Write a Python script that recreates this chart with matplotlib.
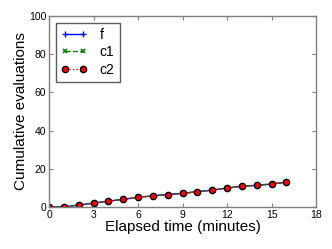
import matplotlib
matplotlib.use('Agg')
import matplotlib.pyplot as plt

plt.rcParams['font.family'] = ['Liberation Sans', 'DejaVu Sans']

# elapsed time (minutes) and cumulative evaluations
minutes = [0, 1, 2, 3, 4, 5, 6, 7, 8, 9, 10, 11, 12, 13, 14, 15, 16]
evals_f = [0, 0, 1, 2, 3, 4, 5, 5.8, 6.5, 7.1, 8, 8.8, 9.9, 10.8, 11.3, 12, 12.9]
evals_c1 = [0, 0, 1, 2, 3, 4, 5, 5.8, 6.5, 7.1, 8, 8.8, 9.9, 10.8, 11.3, 12, 12.9]
evals_c2 = [0, 0, 1, 2, 3, 4, 5, 5.8, 6.5, 7.1, 8, 8.8, 9.9, 10.8, 11.3, 12, 12.9]

fig = plt.figure(figsize=(3.32, 2.49), dpi=100)
ax = fig.add_axes([0.148, 0.169, 0.804, 0.767])

ax.plot(minutes, evals_f, color='blue', linestyle='-', marker='+', ms=5, lw=1, label='f')
ax.plot(minutes, evals_c1, color='green', linestyle='--', marker='x', ms=3.5, mew=1.2, lw=1, label='c1')
ax.plot(minutes, evals_c2, color='red', linestyle=':', marker='o', ms=4.5,
        mfc='red', mec='black', mew=1, lw=1, label='c2')

ax.set_xlim(0, 18)
ax.set_ylim(0, 100)
ax.set_xticks(range(0, 19, 3))
ax.set_yticks(range(0, 101, 20))
ax.tick_params(direction='in', top=True, right=True, labelsize=7.5, length=3, color='grey', pad=2)
for s in ax.spines.values():
    s.set_color('grey')
    s.set_linewidth(1)

ax.set_xlabel('Elapsed time (minutes)', fontsize=11, labelpad=0)
ax.set_ylabel('Cumulative evaluations', fontsize=11, labelpad=1)

leg = ax.legend(loc='upper left', fontsize=10, fancybox=False, numpoints=2,
                handlelength=1.9, handletextpad=0.9, borderaxespad=0.5,
                labelspacing=0.25, borderpad=0.35)
leg.get_frame().set_edgecolor('#333333')

plt.savefig('out.png', dpi=100)
